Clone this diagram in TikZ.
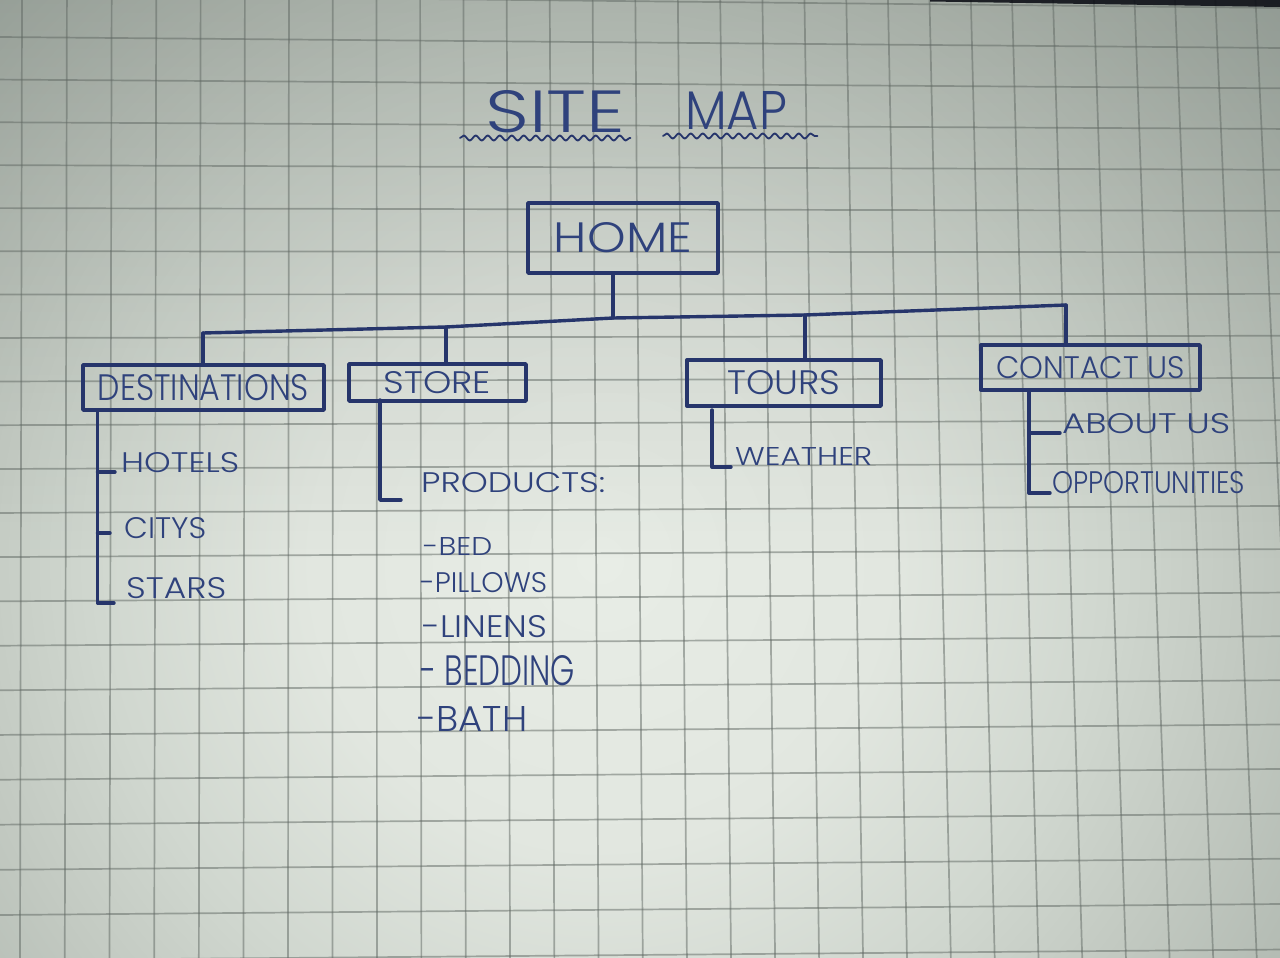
\documentclass[tikz,border=0pt]{standalone}
\usepackage{fontspec}
\usepackage{graphicx}
\setmainfont{Poppins}[UprightFont={* Light}]
\usetikzlibrary{decorations.pathmorphing,fadings}

% ink and paper colours
\definecolor{ink}{HTML}{26356B}
\definecolor{inktext}{HTML}{2F427C}
\definecolor{gridgray}{HTML}{5F6762}
\definecolor{shadow}{HTML}{4A544D}
\definecolor{pa}{HTML}{E8EDE6}
\definecolor{pb}{HTML}{E2E7E0}
\definecolor{pc}{HTML}{D0D7CF}
\definecolor{pd}{HTML}{C2C9C1}
\definecolor{pe}{HTML}{B3BBB3}
\definecolor{pf}{HTML}{A7B0A9}

% light falling on the sheet (25bp is the rim of the shaded disc)
\pgfdeclareradialshading{paperlight}{\pgfpoint{0bp}{0bp}}{%
  color(0bp)=(pa); color(8bp)=(pb); color(14bp)=(pc); color(18bp)=(pd);
  color(22bp)=(pe); color(25bp)=(pf); color(50bp)=(pf)}

% a label stretched to a given width and cap height (in pt)
\newcommand{\inklabel}[3]{\resizebox{#1pt}{#2pt}{#3}}

\begin{document}
\begin{tikzpicture}[x=1pt, y=-1pt, line cap=round, line join=round,
  inkline/.style={draw=ink, line width=3.4pt},
  inkbox/.style={draw=ink, line width=3.4pt, rectangle, inner sep=0pt, text=inktext},
  leaf/.style={anchor=base west, inner sep=0pt, text=inktext},
  gridline/.style={draw=gridgray, line width=1.7pt, opacity=0.5},
  wavy/.style={draw=ink, line width=1.8pt, decorate,
               decoration={snake, segment length=12pt, amplitude=2.5pt}}]

\useasboundingbox (0,0) rectangle (1280,958);

% paper
\begin{scope}
  \clip (0,0) rectangle (1280,958);
  \fill[pf] (0,0) rectangle (1280,958);
  \shade[shading=paperlight] (600,560) circle (900);
  % the upper part of the sheet lies in shadow
  \fill[shadow, fill opacity=0.33, path fading=south] (-10,-200) rectangle (1290,560);
  % squared ruling, slightly foreshortened towards the top right
  \foreach \k in {0,...,29} {
    \pgfmathsetmacro{\xt}{22+45*\k-0.085*\k*\k}
    \pgfmathsetmacro{\xb}{20+44.8*\k-0.0225*\k*\k}
    \draw[gridline] (\xt,0) -- (\xb,958);
  }
  \foreach \j in {-1,...,21} {
    \pgfmathsetmacro{\yl}{37+42.5*\j+0.07*\j*\j}
    \pgfmathsetmacro{\yr}{48+40.2*\j+0.13*\j*\j}
    \draw[gridline] (0,\yl) -- (1280,\yr);
  }
  % table edge peeking in at the top right
  \fill[black!85!ink, opacity=0.85] (930,0) -- (1280,0) -- (1280,7) -- (930,1.5) -- cycle;
\end{scope}

% title
\node[leaf] (site) at (485,132) {\inklabel{140}{42}{SITE}};
\node[leaf] (map)  at (685,129) {\inklabel{102}{38}{MAP}};
\draw[wavy] ([xshift=-25pt,yshift=-6pt]site.base west) -- ([xshift=5pt,yshift=-6pt]site.base east);
\draw[wavy] ([xshift=-22pt,yshift=-7pt]map.base west) -- ([xshift=30pt,yshift=-7pt]map.base east);

% page boxes
\node[inkbox, minimum width=190, minimum height=70] (home)    at (623,238)    {\inklabel{138}{30}{HOME}};
\node[inkbox, minimum width=241, minimum height=45] (dest)    at (203.5,387.5){\inklabel{211}{26}{DESTINATIONS}};
\node[inkbox, minimum width=177, minimum height=37] (store)   at (437.5,382.5){\inklabel{107}{22}{STORE}};
\node[inkbox, minimum width=194, minimum height=46] (tours)   at (784,383)    {\inklabel{113}{24}{TOURS}};
\node[inkbox, minimum width=219, minimum height=45] (contact) at (1090.5,367.5){\inklabel{188}{22}{CONTACT US}};

% sub pages
\node[leaf] (hotels)   at (121,472)  {\inklabel{118}{20}{HOTELS}};
\node[leaf] (citys)    at (124,538)  {\inklabel{82}{21}{CITYS}};
\node[leaf] (stars)    at (126,598)  {\inklabel{100}{21}{STARS}};
\node[leaf] (products) at (421,492)  {\inklabel{184}{20}{PRODUCTS:}};
\node[leaf] (bed)      at (423,555)  {\inklabel{69}{18}{-BED}};
\node[leaf] (pillows)  at (420,592)  {\inklabel{127}{20}{-PILLOWS}};
\node[leaf] (linens)   at (422,637)  {\inklabel{125}{22}{-LINENS}};
\node[leaf] (bedding)  at (420,685)  {\inklabel{155}{30}{- BEDDING}};
\node[leaf] (bath)     at (417,731)  {\inklabel{110}{25}{-BATH}};
\node[leaf] (weather)  at (735,465)  {\inklabel{137}{18}{WEATHER}};
\node[leaf] (aboutus)  at (1062,433) {\inklabel{168}{20}{ABOUT US}};
\node[leaf] (opport)   at (1052,493) {\inklabel{193}{22}{OPPORTUNITIES}};

% main branch bar
\coordinate (jh) at (613,318);
\coordinate (jd) at (203,333);
\coordinate (js) at (446,327);
\coordinate (jt) at (805,315);
\coordinate (jc) at (1066,305);
\draw[inkline] (jh |- home.south) -- (jh);
\draw[inkline] (jd) -- (js) -- (jh) -- (jt) -- (jc);
\draw[inkline] (jd) -- (jd |- dest.north);
\draw[inkline] (js) -- (js |- store.north);
\draw[inkline] (jt) -- (jt |- tours.north);
\draw[inkline] (jc) -- (jc |- contact.north);

% destinations list
\coordinate (dt) at (97.5,410);
\draw[inkline] (dt) |- ([xshift=-12pt,yshift=-5pt]stars.base west);
\draw[inkline] (dt |- hotels.base) -- ([xshift=-6pt]hotels.base west);
\draw[inkline] ([yshift=5pt]dt |- citys.base) -- ([xshift=-14pt,yshift=5pt]citys.base west);

% store list
\coordinate (st) at (380,400);
\draw[inkline] (st) |- ([xshift=-20pt,yshift=-8pt]products.base west);

% tours list
\coordinate (tt) at (712,410);
\draw[inkline] (tt) |- ([xshift=-4pt,yshift=-2pt]weather.base west);

% contact list
\coordinate (ct) at (1029,390);
\draw[inkline] (ct |- aboutus.base) -- ([xshift=-2pt]aboutus.base west);
\draw[inkline] (ct) |- ([xshift=-2pt]opport.base west);

\end{tikzpicture}
\end{document}
